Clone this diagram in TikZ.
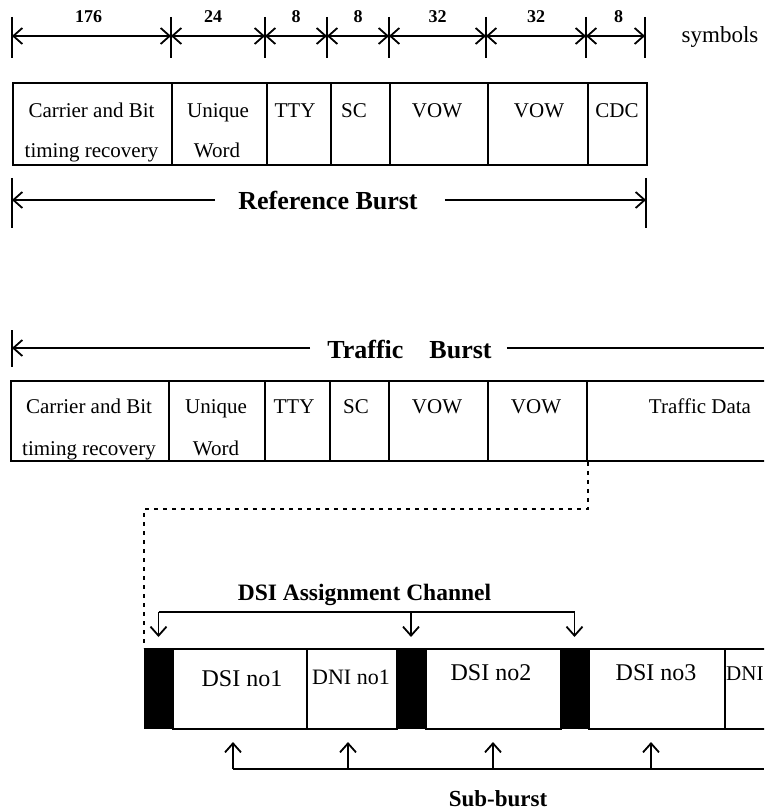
\documentclass[tikz,border=0pt]{standalone}
\usepackage{fontspec}
\setmainfont{Liberation Serif}
\usetikzlibrary{arrows.meta,calc}
\begin{document}
\begin{tikzpicture}[x=1pt,y=-1pt,
  cell/.style={draw, line width=1.8pt, inner sep=0pt, anchor=north west, minimum height=#1},
  cell/.default=82pt,
  bar/.style={fill=black, draw=black, line width=1pt, inner sep=0pt, anchor=north west, minimum height=80pt},
  txt/.style={inner sep=0pt, anchor=base, font=\fontsize{21}{24}\selectfont},
  dsitxt/.style={inner sep=0pt, anchor=base, font=\fontsize{24}{28}\selectfont},
  dnitxt/.style={inner sep=0pt, anchor=base, font=\fontsize{22}{26}\selectfont},
  dimlab/.style={inner sep=0pt, anchor=base, font=\bfseries\fontsize{18}{20}\selectfont},
  bigtitle/.style={inner sep=0pt, anchor=base, font=\bfseries\fontsize{26}{30}\selectfont},
  midtitle/.style={inner sep=0pt, anchor=base, font=\bfseries\fontsize{23.5}{28}\selectfont},
  tip/.tip={Straight Barb[length=9pt,width=16pt,line width=1.8pt]},
  dimline/.style={line width=1.7pt, tip-tip},
  tickline/.style={line width=1.9pt},
  arr/.style={line width=1.9pt, -tip},
  plain/.style={line width=1.9pt},
  dotline/.style={line width=2.2pt, dash pattern=on 4pt off 5pt}
]
\useasboundingbox (0,0) rectangle (764,810);
\clip (0,0) rectangle (764,810);

% ---------- top dimension line ----------
\coordinate (k0) at (12,36);
\coordinate (k1) at (171,36);
\coordinate (k2) at (265,36);
\coordinate (k3) at (327,36);
\coordinate (k4) at (389,36);
\coordinate (k5) at (486,36);
\coordinate (k6) at (586,36);
\coordinate (k7) at (645,36);
\foreach \k in {k0,k1,k2,k3,k4,k5,k6,k7}{
  \draw[tickline] ($(\k)+(0,-19)$) -- ($(\k)+(0,22)$);
}
\draw[dimline] (k0) -- (k1);
\draw[dimline] (k1) -- (k2);
\draw[dimline] (k2) -- (k3);
\draw[dimline] (k3) -- (k4);
\draw[dimline] (k4) -- (k5);
\draw[dimline] (k5) -- (k6);
\draw[dimline] (k6) -- (k7);
\node[dimlab] (l1) at ($(k0)!0.5!(k1)+(-3,-13)$) {176};
\node[dimlab] (l2) at ($(k1)!0.5!(k2)+(-5,-13)$) {24};
\node[dimlab] (l3) at ($(k2)!0.5!(k3)+(0,-13)$) {8};
\node[dimlab] (l4) at ($(k3)!0.5!(k4)+(0,-13)$) {8};
\node[dimlab] (l5) at ($(k4)!0.5!(k5)+(0,-13)$) {32};
\node[dimlab] (l6) at ($(k5)!0.5!(k6)+(0,-13)$) {32};
\node[dimlab] (l7) at ($(k6)!0.5!(k7)+(3,-13)$) {8};
\node[inner sep=0pt, anchor=base, font=\fontsize{23}{26}\selectfont] (sym) at (720,43) {symbols};

% ---------- reference burst ----------
\node[cell, minimum width=159pt] (r1) at (12,82) {};
\node[cell, minimum width=95pt] (r2) at (171,82) {};
\node[cell, minimum width=64pt] (r3) at (266,82) {};
\node[cell, minimum width=59pt] (r4) at (330,82) {};
\node[cell, minimum width=98pt] (r5) at (389,82) {};
\node[cell, minimum width=100pt] (r6) at (487,82) {};
\node[cell, minimum width=59pt] (r7) at (587,82) {};
\node[txt] (r1a) at (91.5,118) {Carrier and Bit};
\node[txt] (r1b) at (91.5,158) {timing recovery};
\node[txt] (r2a) at (218,118) {Unique};
\node[txt] (r2b) at (217,158) {Word};
\node[txt] (r3a) at (295,118) {TTY};
\node[txt] (r4a) at (354,118) {SC};
\node[txt] (r5a) at (437,118) {VOW};
\node[txt] (r6a) at (539,118) {VOW};
\node[txt] (r7a) at (617,118) {CDC};

\coordinate (rbL) at (12,200);
\coordinate (rbR) at (646,200);
\draw[tickline] ($(rbL)+(0,-22)$) -- ($(rbL)+(0,28)$);
\draw[tickline] ($(rbR)+(0,-22)$) -- ($(rbR)+(0,28)$);
\node[bigtitle] (rbt) at (328,210) {Reference Burst};
\draw[arr, shorten <=23pt] (rbt.west |- rbL) -- (rbL);
\draw[arr, shorten <=27pt] (rbt.east |- rbR) -- (rbR);

% ---------- traffic burst ----------
\coordinate (tbL) at (12,348);
\coordinate (tbR) at (764,348);
\draw[tickline] ($(tbL)+(0,-18)$) -- ($(tbL)+(0,19)$);
\node[bigtitle] (tbt) at (409.5,358) {Traffic\hspace{26pt}Burst};
\draw[arr, shorten <=17pt] (tbt.west |- tbL) -- (tbL);
\draw[plain, shorten <=15pt] (tbt.east |- tbR) -- (tbR);

\node[cell=80pt, minimum width=158pt] (t1) at (10,380) {};
\node[cell=80pt, minimum width=96pt] (t2) at (168,380) {};
\node[cell=80pt, minimum width=65pt] (t3) at (264,380) {};
\node[cell=80pt, minimum width=59pt] (t4) at (329,380) {};
\node[cell=80pt, minimum width=99pt] (t5) at (388,380) {};
\node[cell=80pt, minimum width=99pt] (t6) at (487,380) {};
\node[cell=80pt, minimum width=200pt] (t7) at (586,380) {};
\node[txt] (t1a) at (89,413) {Carrier and Bit};
\node[txt] (t1b) at (89,455) {timing recovery};
\node[txt] (t2a) at (216,413) {Unique};
\node[txt] (t2b) at (216,455) {Word};
\node[txt] (t3a) at (294,413) {TTY};
\node[txt] (t4a) at (356,413) {SC};
\node[txt] (t5a) at (437,413) {VOW};
\node[txt] (t6a) at (536,413) {VOW};
\node[txt] (t7a) at (700,413) {Traffic Data};

% ---------- sub-burst row ----------
\node[bar, minimum width=28pt] (b1) at (144,648) {};
\node[cell=80pt, minimum width=134pt] (d1) at (172,648) {};
\node[cell=80pt, minimum width=90pt] (d2) at (306,648) {};
\node[bar, minimum width=29pt] (b2) at (396,648) {};
\node[cell=80pt, minimum width=135pt] (d3) at (425,648) {};
\node[bar, minimum width=28pt] (b3) at (560,648) {};
\node[cell=80pt, minimum width=136pt] (d4) at (588,648) {};
\node[cell=80pt, minimum width=90pt] (d5) at (724,648) {};
\node[dsitxt] (d1a) at (242,686) {DSI no1};
\node[dnitxt] (d2a) at (351,684) {DNI no1};
\node[dsitxt] (d3a) at (491,680) {DSI no2};
\node[dsitxt] (d4a) at (656,680) {DSI no3};
\node[inner sep=0pt, anchor=base west, font=\fontsize{21}{24}\selectfont] (d5a) at (726,680) {DNI};

% dotted link from traffic data to sub-burst row
\draw[dotline] (t6.south east) -- ++(0,47) -| (b1.north west);

% DSI assignment channel
\node[midtitle] (dsit) at (364.5,600) {DSI Assignment Channel};
\coordinate (dsiY) at (0,612);
\draw[plain] (b1.north |- dsiY) -- (b3.north |- dsiY);
\draw[arr, shorten >=11pt] (b1.north |- dsiY) -- (b1.north);
\draw[arr, shorten >=11pt] (b2.north |- dsiY) -- (b2.north);
\draw[arr, shorten >=11pt] (b3.north |- dsiY) -- (b3.north);

% sub-burst arrows
\coordinate (s1) at (233,742);
\coordinate (s2) at (348,742);
\coordinate (s3) at (493,742);
\coordinate (s4) at (651,742);
\coordinate (sbY) at (0,769);
\coordinate (sbE) at (764,769);
\draw[plain] (s1 |- sbY) -- (sbE);
\draw[arr] (s1 |- sbY) -- (s1);
\draw[arr] (s2 |- sbY) -- (s2);
\draw[arr] (s3 |- sbY) -- (s3);
\draw[arr] (s4 |- sbY) -- (s4);
\node[midtitle, font=\bfseries\fontsize{23}{26}\selectfont] (sbt) at (498,806) {Sub-burst};
\end{tikzpicture}
\end{document}
